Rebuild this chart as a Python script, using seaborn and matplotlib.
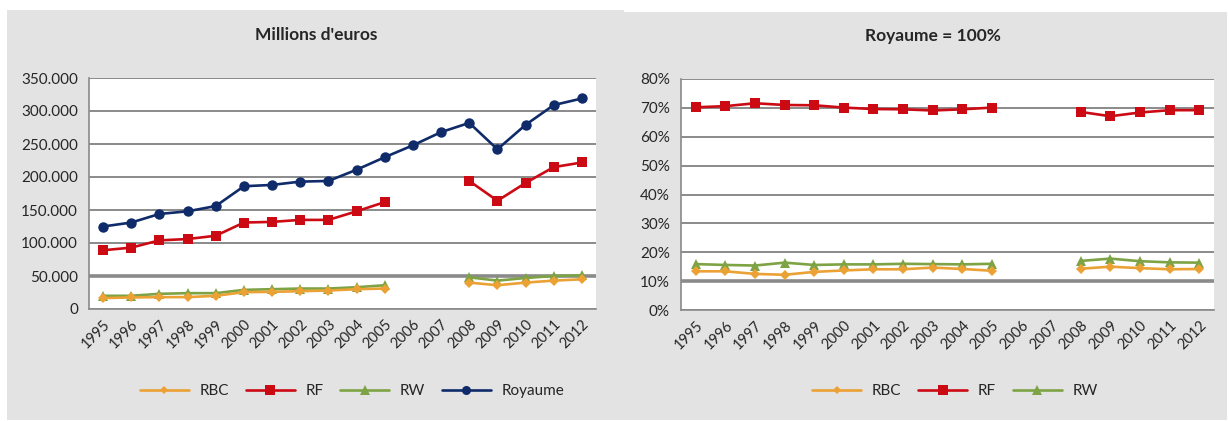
import numpy as np
import pandas as pd
import matplotlib
matplotlib.use("Agg")
import matplotlib.pyplot as plt
from matplotlib.lines import Line2D
from matplotlib.patches import Rectangle
from matplotlib.ticker import FuncFormatter, FixedLocator
import seaborn as sns

years = [str(y) for y in range(1995, 2013)]
nan = np.nan

# Millions d'euros
royaume_abs = [125, 131, 144, 148, 156, 186, 188, 193, 194, 211, 230, 248, 268, 282, 242, 279, 309, 319]
rf_abs = [89, 93, 104, 106, 111, 131, 132, 135, 135, 148, 162, nan, nan, 194, 164, 191, 215, 222]
rw_abs = [20, 20, 23, 24, 24, 29, 30, 31, 31, 33, 36, nan, nan, 48, 43, 47, 50, 51]
rbc_abs = [16.5, 17.5, 18, 18, 20, 25.5, 26, 27, 28, 30, 31, nan, nan, 40, 36, 40, 43, 45]

# Royaume = 100%
rf_pct = [70.2, 70.6, 71.6, 71.0, 70.9, 70.1, 69.6, 69.5, 69.1, 69.5, 70.1, nan, nan, 68.6, 67.1, 68.4, 69.2, 69.2]
rw_pct = [15.9, 15.6, 15.4, 16.4, 15.6, 15.8, 15.8, 16.0, 15.9, 15.8, 16.0, nan, nan, 17.0, 17.8, 16.9, 16.5, 16.4]
rbc_pct = [13.4, 13.4, 12.5, 12.2, 13.2, 13.7, 14.1, 14.1, 14.7, 14.2, 13.6, nan, nan, 14.3, 15.0, 14.5, 14.1, 14.2]

left_ticks = [0, 50, 100, 150, 200, 250, 300, 350]
right_ticks = [0, 10, 20, 30, 40, 50, 60, 70, 80]

colors = {"RBC": "#EBA134", "RF": "#CC0A14", "RW": "#7DA344", "Royaume": "#0F2B6A"}
markers = {"RBC": "D", "RF": "s", "RW": "^", "Royaume": "o"}
msizes = {"RBC": 5.5, "RF": 7.5, "RW": 7.5, "Royaume": 7.5}

sns.set_style("white")
plt.rcParams["font.family"] = ["Lato", "DejaVu Sans"]


def long_frame(series):
    rows = []
    for name, vals in series.items():
        seg = 0
        prev_nan = False
        for i, v in enumerate(vals):
            if np.isnan(v):
                prev_nan = True
                continue
            if prev_nan:
                seg += 1
                prev_nan = False
            rows.append({"x": i, "y": v, "serie": name, "seg": f"{name}_{seg}"})
    return pd.DataFrame(rows)


fig = plt.figure(figsize=(12.29, 4.21), dpi=100)
fig.patch.set_facecolor("white")
W, H = 1229, 421
fig.patches.append(Rectangle((7 / W, 1 / H), (624 - 7) / W, (420 - 10) / H,
                             transform=fig.transFigure, facecolor="#e3e3e3", edgecolor="none", zorder=-10))
fig.patches.append(Rectangle((624 / W, 1 / H), (1227 - 624) / W, (420 - 12) / H,
                             transform=fig.transFigure, facecolor="#e3e3e3", edgecolor="none", zorder=-10))

axL = fig.add_axes([89 / W, 1 - 309 / H, (596 - 89) / W, (309 - 78) / H])
axR = fig.add_axes([681 / W, 1 - 310 / H, (1214 - 681) / W, (310 - 79) / H])
axL.set_zorder(2)
axR.set_zorder(2)


def draw(ax, series, ticks, thick, fmt):
    df = long_frame(series)
    ax.set_facecolor("white")
    for t in ticks:
        lw = 2.6 if t == thick else 1.4
        ax.axhline(t, color="#8a8a8a", lw=lw, zorder=1)
    for name in series:
        sub = df[df["serie"] == name]
        sns.lineplot(data=sub, x="x", y="y", units="seg", estimator=None,
                     color=colors[name], marker=markers[name], markersize=msizes[name],
                     markeredgewidth=0, linewidth=1.9, ax=ax, legend=False, zorder=3)
    ax.set_xlim(-0.5, len(years) - 0.5)
    ax.set_ylim(ticks[0], ticks[-1])
    ax.set_xticks(range(len(years)))
    ax.set_xticklabels(years, rotation=45, ha="right", rotation_mode="anchor", fontsize=10.5)
    ax.xaxis.set_minor_locator(FixedLocator(np.arange(-0.5, len(years), 1.0)))
    ax.tick_params(axis="x", which="major", length=0, pad=6)
    ax.tick_params(axis="x", which="minor", length=5, color="#8a8a8a", width=1.2, direction="out")
    ax.set_yticks(ticks)
    ax.yaxis.set_major_formatter(FuncFormatter(fmt))
    ax.tick_params(axis="y", length=5, color="#8a8a8a", width=1.2, direction="out", labelsize=11, pad=3)
    ax.set_xlabel("")
    ax.set_ylabel("")
    for s in ["top", "right"]:
        ax.spines[s].set_visible(False)
    for s in ["left", "bottom"]:
        ax.spines[s].set_color("#8a8a8a")
        ax.spines[s].set_linewidth(1.2)


def fmt_left(v, pos):
    v = int(round(v))
    return "0" if v == 0 else f"{v}.000"


def fmt_right(v, pos):
    return f"{int(round(v))}%"


draw(axL, {"Royaume": royaume_abs, "RF": rf_abs, "RW": rw_abs, "RBC": rbc_abs}, left_ticks, 50, fmt_left)
draw(axR, {"RF": rf_pct, "RW": rw_pct, "RBC": rbc_pct}, right_ticks, 10, fmt_right)

fig.text(316 / W, 1 - 35 / H, "Millions d'euros", ha="center", va="center", fontsize=12.5, fontweight="bold")
fig.text(933 / W, 1 - 36 / H, "Royaume = 100%", ha="center", va="center", fontsize=12.5, fontweight="bold")


def handles(names):
    return [Line2D([0], [0], color=colors[n], marker=markers[n], markersize=msizes[n] - 1,
                   markeredgewidth=0, linewidth=1.9) for n in names]


legL_names = ["RBC", "RF", "RW", "Royaume"]
legR_names = ["RBC", "RF", "RW"]
fig.legend(handles(legL_names), legL_names, loc="center", bbox_to_anchor=(352 / W, 1 - 391 / H),
           ncol=4, frameon=False, fontsize=11, handlelength=3.2, handletextpad=0.7, columnspacing=1.1)
fig.legend(handles(legR_names), legR_names, loc="center", bbox_to_anchor=(955 / W, 1 - 391 / H),
           ncol=3, frameon=False, fontsize=11, handlelength=3.2, handletextpad=0.7, columnspacing=1.1)

fig.savefig("out.png", dpi=100, facecolor="white")
